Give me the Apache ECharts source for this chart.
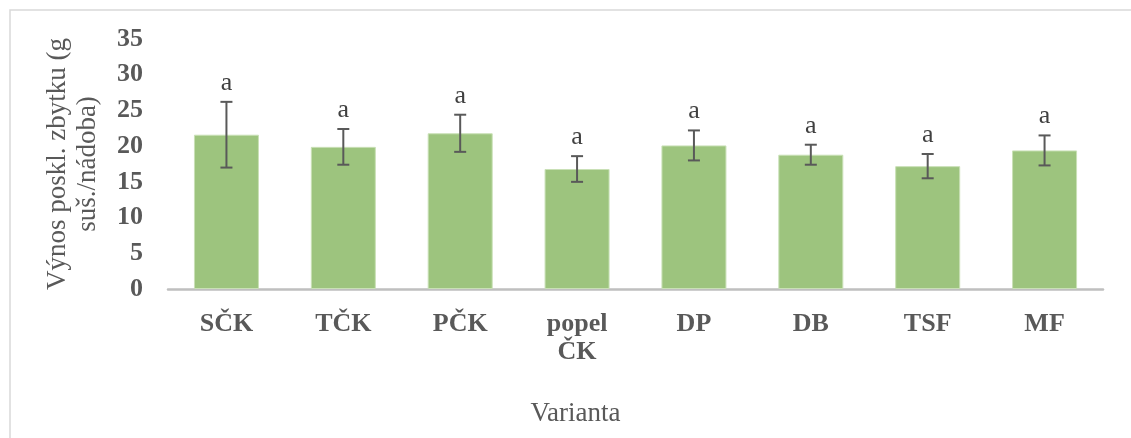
<!DOCTYPE html>
<html>
<head>
<meta charset="utf-8">
<script src="https://cdn.jsdelivr.net/npm/echarts@6/dist/echarts.min.js"></script>
<style>
  html, body { margin: 0; padding: 0; background: #fff; }
  #chart { width: 1131px; height: 438px; }
</style>
</head>
<body>
<div id="chart"></div>
<script>
// Yield of the harvest residue per pot, by treatment variant
const categories = ['SČK', 'TČK', 'PČK', 'popel\nČK', 'DP', 'DB', 'TSF', 'MF'];
const means = [21.6, 19.9, 21.8, 16.8, 20.1, 18.8, 17.2, 19.4];
const errors = [4.6, 2.5, 2.6, 1.8, 2.1, 1.4, 1.7, 2.1];
const letters = ['a', 'a', 'a', 'a', 'a', 'a', 'a', 'a'];
const yTicks = [0, 5, 10, 15, 20, 25, 30, 35];

const textGray = '#595959';
const serif = '"Liberation Serif", "Times New Roman", serif';

const chart = echarts.init(document.getElementById('chart'), null, { renderer: 'canvas' });

// error bar + significance letter for each category
function renderErrorBar(params, api) {
  const i = api.value(0);
  const m = api.value(1);
  const e = api.value(2);
  const top = api.coord([i, m + e]);
  const bot = api.coord([i, m - e]);
  const cap = 6;
  const style = { stroke: textGray, lineWidth: 2 };
  return {
    type: 'group',
    children: [
      { type: 'line', shape: { x1: top[0], y1: top[1], x2: bot[0], y2: bot[1] }, style },
      { type: 'line', shape: { x1: top[0] - cap, y1: top[1], x2: top[0] + cap, y2: top[1] }, style },
      { type: 'line', shape: { x1: bot[0] - cap, y1: bot[1], x2: bot[0] + cap, y2: bot[1] }, style },
      {
        type: 'text',
        x: top[0], y: top[1] - 19,
        style: {
          text: letters[i], fill: '#404040',
          font: '26px ' + serif,
          align: 'center', verticalAlign: 'middle'
        }
      }
    ]
  };
}

chart.setOption({
  animation: false,
  backgroundColor: '#ffffff',
  graphic: [{
    type: 'rect',
    shape: { x: 10, y: 10, width: 1140, height: 440 },
    style: { fill: 'none', stroke: '#d9d9d9', lineWidth: 1.5 },
    silent: true
  }],
  grid: { left: 168, right: 28, top: 39, bottom: 149, containLabel: false },
  xAxis: {
    type: 'category',
    data: categories,
    name: 'Varianta',
    nameLocation: 'middle',
    nameGap: 111,
    nameTextStyle: {
      color: textGray, fontFamily: serif, fontSize: 27,
      padding: [0, 120, 0, 0]
    },
    axisLine: { lineStyle: { color: '#bfbfbf', width: 2.5 } },
    axisTick: { show: false },
    axisLabel: {
      color: textGray, fontFamily: serif, fontSize: 26, fontWeight: 'bold',
      lineHeight: 28, margin: 21, interval: 0
    }
  },
  yAxis: {
    type: 'value',
    min: 0, max: 35, interval: 5,
    name: 'Výnos poskl. zbytku (g\nsuš./nádoba)',
    nameLocation: 'middle',
    nameGap: 65,
    nameTextStyle: {
      color: textGray, fontFamily: serif, fontSize: 27, lineHeight: 30, align: 'center'
    },
    splitLine: { show: false },
    axisLine: { show: false },
    axisTick: { show: false },
    axisLabel: {
      color: textGray, fontFamily: serif, fontSize: 26, fontWeight: 'bold', margin: 25,
      formatter: v => (yTicks.includes(v) ? String(v) : '')
    }
  },
  series: [
    {
      type: 'bar',
      data: means,
      barWidth: 65,
      itemStyle: { color: '#9dc47e', borderColor: '#c9e0b6', borderWidth: 1 },
      z: 2
    },
    {
      type: 'custom',
      renderItem: renderErrorBar,
      data: means.map((m, i) => [i, m, errors[i]]),
      encode: { x: 0, y: 1 },
      z: 5
    }
  ]
});
</script>
</body>
</html>
